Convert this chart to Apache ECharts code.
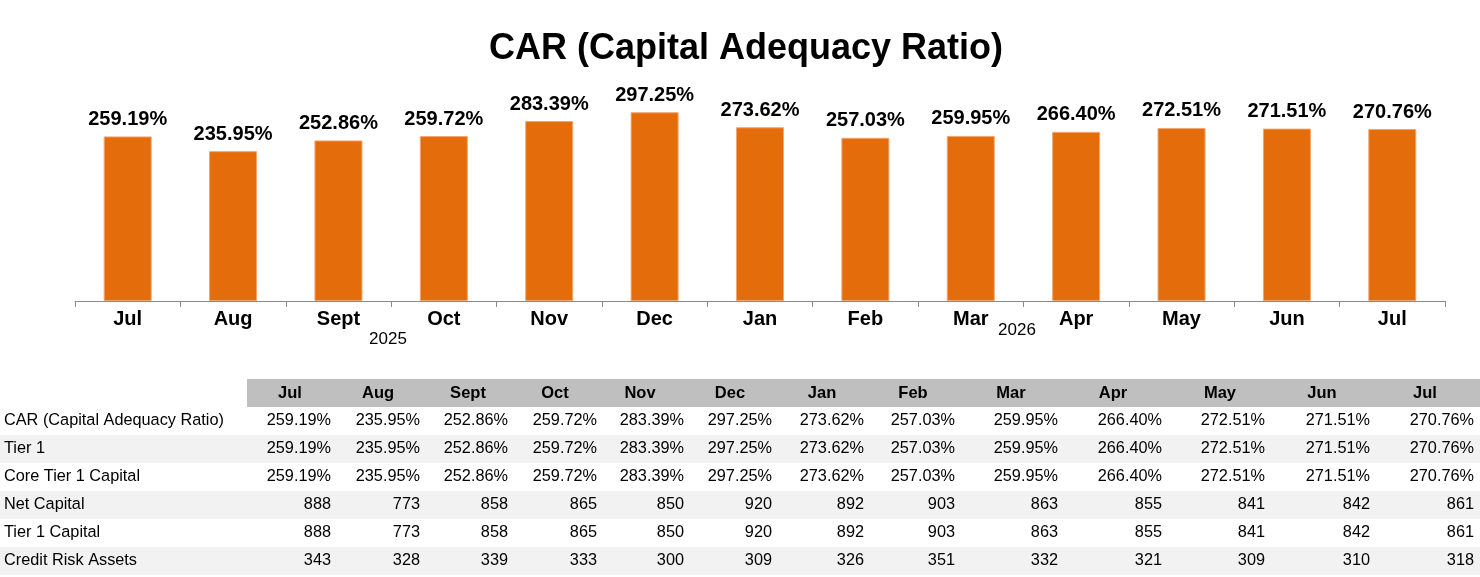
<!DOCTYPE html>
<html>
<head>
<meta charset="utf-8">
<title>CAR (Capital Adequacy Ratio)</title>
<script src="https://cdn.jsdelivr.net/npm/echarts@6/dist/echarts.min.js"></script>
<style>
	html, body { margin: 0; padding: 0; background: #fff; }
	#main { width: 1480px; height: 577px; }
</style>
</head>
<body>
<div id="main"></div>
<script>
// 月份
var months = ['Jul', 'Aug', 'Sept', 'Oct', 'Nov', 'Dec', 'Jan', 'Feb', 'Mar', 'Apr', 'May', 'Jun', 'Jul'];
var years = ['2025', '2026'];

// 资本充足率 (%)
var carValues = [259.19, 235.95, 252.86, 259.72, 283.39, 297.25, 273.62, 257.03, 259.95, 266.40, 272.51, 271.51, 270.76];
var tier1Values = [259.19, 235.95, 252.86, 259.72, 283.39, 297.25, 273.62, 257.03, 259.95, 266.40, 272.51, 271.51, 270.76];
var coreTier1Values = [259.19, 235.95, 252.86, 259.72, 283.39, 297.25, 273.62, 257.03, 259.95, 266.40, 272.51, 271.51, 270.76];
var netCapital = [888, 773, 858, 865, 850, 920, 892, 903, 863, 855, 841, 842, 861];
var tier1Capital = [888, 773, 858, 865, 850, 920, 892, 903, 863, 855, 841, 842, 861];
var creditRiskAssets = [343, 328, 339, 333, 300, 309, 326, 351, 332, 321, 309, 310, 318];

var rowNames = ['CAR (Capital Adequacy Ratio)', 'Tier 1', 'Core Tier 1 Capital', 'Net Capital', 'Tier 1 Capital', 'Credit Risk Assets'];
var rowValues = [carValues, tier1Values, coreTier1Values, netCapital, tier1Capital, creditRiskAssets];
var rowIsPct = [true, true, true, false, false, false];

var FONT = '"Liberation Sans", Arial, sans-serif';

function pct(v) {
	return v.toFixed(2) + '%';
}

// 表格布局
var colRight = [331, 420, 508, 597, 684, 772, 864, 955, 1058, 1162, 1265, 1370, 1474];
var colHead = [290, 378, 468, 555, 640, 730, 822, 913, 1011, 1113, 1220, 1322, 1425];
var headTop = 379;
var rowH = 28;

function buildTable() {
	var els = [];
	// 表头底色
	els.push({
		type: 'rect',
		shape: { x: 247, y: headTop, width: 1233, height: rowH },
		style: { fill: '#BFBFBF' },
		silent: true
	});
	// 隔行底色
	for (var r = 0; r < rowNames.length; r++) {
		if (r % 2 === 1) {
			els.push({
				type: 'rect',
				shape: { x: 0, y: headTop + rowH * (r + 1), width: 1480, height: rowH },
				style: { fill: '#F2F2F2' },
				silent: true
			});
		}
	}
	// 表头文字
	for (var c = 0; c < months.length; c++) {
		els.push({
			type: 'text',
			style: {
				x: colHead[c], y: headTop + rowH / 2,
				text: months[c],
				textAlign: 'center', textVerticalAlign: 'middle',
				font: 'bold 16.5px ' + FONT, fill: '#000'
			}
		});
	}
	// 数据行
	for (var r = 0; r < rowNames.length; r++) {
		var cy = headTop + rowH * (r + 1) + rowH / 2;
		els.push({
			type: 'text',
			style: {
				x: 4, y: cy,
				text: rowNames[r],
				textAlign: 'left', textVerticalAlign: 'middle',
				font: '16.3px ' + FONT, fill: '#000'
			}
		});
		for (var c = 0; c < months.length; c++) {
			var v = rowValues[r][c];
			els.push({
				type: 'text',
				style: {
					x: colRight[c], y: cy,
					text: rowIsPct[r] ? pct(v) : String(v),
					textAlign: 'right', textVerticalAlign: 'middle',
					font: '16.3px ' + FONT, fill: '#000'
				}
			});
		}
	}
	// 年份
	els.push({
		type: 'text',
		style: { x: 388, y: 339, text: years[0], textAlign: 'center', textVerticalAlign: 'middle', font: '17px ' + FONT, fill: '#000' }
	});
	els.push({
		type: 'text',
		style: { x: 1017, y: 330, text: years[1], textAlign: 'center', textVerticalAlign: 'middle', font: '17px ' + FONT, fill: '#000' }
	});
	return els;
}

var chart = echarts.init(document.getElementById('main'));
var option = {
	animation: false,
	title: {
		text: 'CAR (Capital Adequacy Ratio)',
		left: 484,
		top: 26,
		textStyle: {
			fontFamily: FONT,
			fontSize: 36,
			fontWeight: 'bold',
			color: '#000'
		}
	},
	grid: {
		left: 75,
		right: 35,
		top: 47,
		bottom: 276,
		containLabel: false
	},
	xAxis: {
		type: 'category',
		data: months,
		axisLine: { lineStyle: { color: '#898989', width: 1 } },
		axisTick: { show: true, length: 6, interval: 0, lineStyle: { color: '#898989' } },
		axisLabel: {
			interval: 0,
			margin: 8,
			fontFamily: FONT,
			fontSize: 20,
			fontWeight: 'bold',
			color: '#000'
		}
	},
	yAxis: {
		type: 'value',
		min: 0,
		max: 400,
		show: false,
		splitLine: { show: false }
	},
	series: [{
		name: 'CAR',
		type: 'bar',
		data: carValues,
		barWidth: 48,
		itemStyle: {
			color: '#E46C0A',
			borderColor: '#F2A670',
			borderWidth: 1
		},
		label: {
			show: true,
			position: 'top',
			distance: 7,
			formatter: function(p) {
				return pct(p.value);
			},
			fontFamily: FONT,
			fontSize: 20,
			fontWeight: 'bold',
			color: '#000'
		}
	}],
	graphic: buildTable()
};
chart.setOption(option);
</script>
</body>
</html>
